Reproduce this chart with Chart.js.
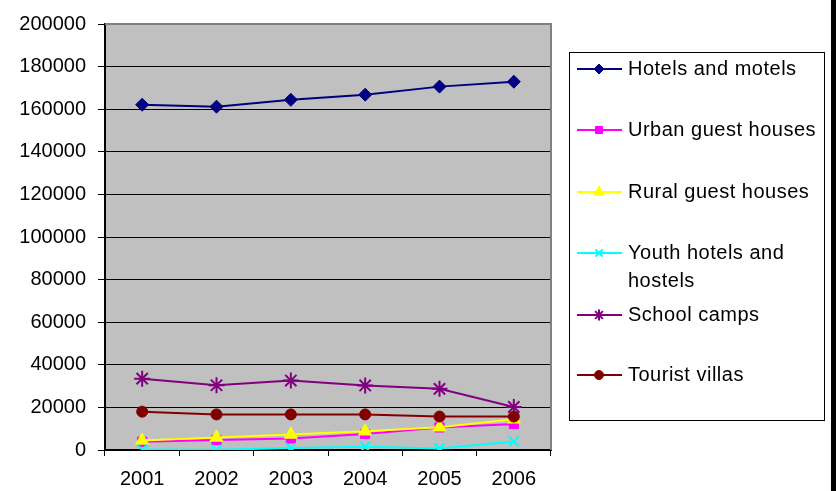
<!DOCTYPE html>
<html>
<head>
<meta charset="utf-8">
<script src="https://cdn.jsdelivr.net/npm/chart.js@4"></script>
<style>
html,body{margin:0;padding:0;background:#fff;overflow:hidden;}
#wrap{position:relative;width:836px;height:491px;}
#bar{position:absolute;left:831px;top:0;width:5px;height:491px;background:#000;}
</style>
</head>
<body>
<div id="wrap"><canvas id="c" width="836" height="491"></canvas><div id="bar"></div></div>
<script>
const years = ['2001','2002','2003','2004','2005','2006'];
const seriesNames = ['Hotels and motels','Urban guest houses','Rural guest houses','Youth hotels and hostels','School camps','Tourist villas'];
const hotelsMotels = [162100, 161200, 164400, 166800, 170600, 172900];
const urbanGuestHouses = [3900, 4700, 5400, 7500, 10600, 12200];
const ruralGuestHouses = [4500, 5900, 7300, 8800, 10700, 14400];
const youthHostels = [200, 100, 900, 1500, 700, 4000];
const schoolCamps = [33500, 30400, 32600, 30300, 28700, 20200];
const touristVillas = [18000, 16700, 16700, 16700, 15700, 15700];
const yTicks = [0,20000,40000,60000,80000,100000,120000,140000,160000,180000,200000];

const styles = [
  {color:'#000080', fill:'#000080', pt:'rectRot', r:6.5, lr:5},
  {color:'#FF00FF', fill:'#FF00FF', pt:'rect', r:6.5, lr:5},
  {color:'#FFFF00', fill:'#FFFF00', pt:'triangle', r:7.5, lr:6},
  {color:'#00FFFF', fill:'#00FFFF', pt:'crossRot', r:7, lr:5},
  {color:'#800080', fill:'#800080', pt:'star', r:8, lr:5.5},
  {color:'#800000', fill:'#800000', pt:'circle', r:5.5, lr:4.5}
];
const allData = [hotelsMotels, urbanGuestHouses, ruralGuestHouses, youthHostels, schoolCamps, touristVillas];

const datasets = allData.map((d,i)=>({
  label: seriesNames[i],
  data: d,
  borderColor: styles[i].color,
  backgroundColor: styles[i].fill,
  borderWidth: 2,
  pointStyle: styles[i].pt,
  pointRadius: styles[i].r,
  pointBackgroundColor: styles[i].fill,
  pointBorderColor: styles[i].color,
  pointBorderWidth: (styles[i].pt==='crossRot'||styles[i].pt==='star')?2:1,
  tension: 0,
  order: 10 - i
}));

const FONT = '"Liberation Sans", Arial, sans-serif';

const bgPlugin = {
  id:'bg',
  beforeDraw(chart){
    const {ctx, chartArea:a} = chart;
    ctx.save();
    ctx.fillStyle = '#C0C0C0';
    ctx.fillRect(a.left, a.top, a.right-a.left, a.bottom-a.top);
    ctx.restore();
  },
  beforeDatasetsDraw(chart){
    const {ctx, chartArea:a} = chart;
    ctx.save();
    ctx.strokeStyle = '#808080';
    ctx.lineWidth = 2;
    ctx.beginPath();
    ctx.moveTo(a.left, a.top);
    ctx.lineTo(a.right, a.top);
    ctx.lineTo(a.right, a.bottom);
    ctx.stroke();
    ctx.restore();
  }
};

const legendPlugin = {
  id:'customLegend',
  afterDraw(chart){
    const ctx = chart.ctx;
    ctx.save();
    ctx.strokeStyle = '#000';
    ctx.lineWidth = 1;
    ctx.strokeRect(569.5, 52.5, 255, 368);
    const rows = [
      {y:69, lines:['Hotels and motels']},
      {y:130, lines:['Urban guest houses']},
      {y:192, lines:['Rural guest houses']},
      {y:253, lines:['Youth hotels and','hostels']},
      {y:315, lines:['School camps']},
      {y:375, lines:['Tourist villas']}
    ];
    ctx.font = '20px ' + FONT;
    ctx.textBaseline = 'middle';
    ctx.textAlign = 'left';
    try { ctx.letterSpacing = '0.5px'; } catch(e) {}
    rows.forEach((r,i)=>{
      const s = styles[i];
      ctx.strokeStyle = s.color;
      ctx.lineWidth = 2;
      ctx.beginPath();
      ctx.moveTo(577, r.y);
      ctx.lineTo(622, r.y);
      ctx.stroke();
      ctx.fillStyle = s.fill;
      ctx.strokeStyle = s.color;
      ctx.lineWidth = (s.pt==='crossRot'||s.pt==='star')?2:1;
      Chart.helpers.drawPoint(ctx, {pointStyle:s.pt, radius:s.lr, rotation:0, borderWidth:ctx.lineWidth}, 599, r.y);
      ctx.fillStyle = '#000';
      r.lines.forEach((t,k)=>ctx.fillText(t, 628, r.y + k*28));
    });
    ctx.restore();
  }
};

new Chart(document.getElementById('c'), {
  type:'line',
  data:{labels: years, datasets},
  options:{
    responsive:false,
    animation:false,
    layout:{padding:{top:22, right:285, left:0, bottom:0}},
    plugins:{legend:{display:false}, tooltip:{enabled:false}},
    scales:{
      x:{
        type:'category',
        offset:true,
        grid:{offset:true, drawOnChartArea:false, drawTicks:true, tickLength:6, color:'#000', lineWidth:1},
        border:{display:true, color:'#000', width:2},
        ticks:{color:'#000', font:{family:FONT, size:20}, padding:11, maxRotation:0},
        afterFit(s){ s.height = 41; }
      },
      y:{
        min:0, max:200000,
        afterBuildTicks(s){ s.ticks = yTicks.map(v=>({value:v})); },
        grid:{color:(c)=> c.tick && c.tick.value===200000 ? '#808080' : '#000', lineWidth:1, tickLength:7, tickColor:'#000'},
        border:{display:true, color:'#000', width:2},
        ticks:{color:'#000', font:{family:FONT, size:20}, padding:12, callback:(v)=>String(v)},
        afterFit(s){ s.width = 105; }
      }
    }
  },
  plugins:[bgPlugin, legendPlugin]
});
</script>
</body>
</html>
